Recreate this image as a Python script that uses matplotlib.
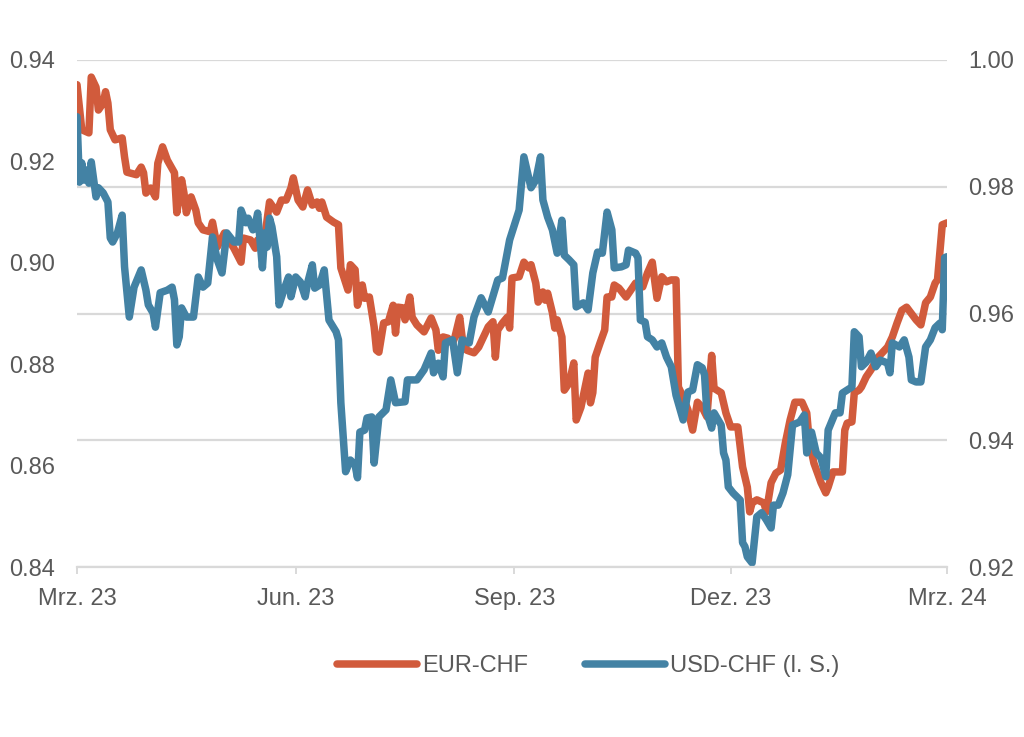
import matplotlib
matplotlib.use("Agg")
import matplotlib.pyplot as plt
import pandas as pd

plt.rcParams['font.family'] = ['Liberation Sans', 'DejaVu Sans']

# Tage seit 1. Maerz 2023 und Kurse
eur_day = [0, 2, 5, 6, 8, 9, 11, 12, 13, 14, 16, 19, 20, 21, 25, 27, 28, 29, 31, 33,
           34, 36, 38, 41, 42, 44, 45, 46, 48, 50, 51, 53, 56, 57, 59, 62, 66, 69, 70, 73,
           75, 76, 79, 81, 84, 86, 88, 90, 91, 93, 95, 97, 99, 101, 102, 103, 105, 108, 110, 111,
           114, 115, 117, 118, 120, 121, 123, 125, 126, 127, 129, 131, 133, 134, 135, 137, 138, 140, 141, 143,
           146, 149, 151, 152, 154, 156, 158, 159, 161, 162, 164, 167, 169, 171, 173, 175, 176, 177, 179, 181,
           182, 183, 186, 188, 190, 191, 193, 194, 196, 197, 198, 200, 201, 202, 204, 205, 207, 209, 210, 212,
           215, 216, 217, 218, 220, 222, 223, 225, 226, 228, 231, 233, 235, 238, 240, 242, 244, 246, 248, 250,
           252, 253, 255, 257, 259, 261, 263, 265, 267, 268, 271, 273, 275, 278, 280, 282, 283, 284, 286, 289,
           290, 292, 294, 296, 298, 300, 302, 305, 307, 308, 310, 313, 315, 316, 318, 322, 323, 324, 326, 327,
           329, 330, 332, 334, 337, 341, 343, 345, 347, 349, 350, 353, 355, 357, 359, 361, 362, 364, 366]
eur_chf = [0.9961, 0.9890, 0.9885, 0.9973, 0.9957, 0.9921, 0.9932, 0.9950, 0.9932, 0.9890,
           0.9874, 0.9877, 0.9847, 0.9823, 0.9819, 0.9831, 0.9822, 0.9790, 0.9798, 0.9784,
           0.9837, 0.9863, 0.9842, 0.9822, 0.9759, 0.9811, 0.9790, 0.9759, 0.9784, 0.9763,
           0.9743, 0.9732, 0.9729, 0.9744, 0.9705, 0.9727, 0.9703, 0.9681, 0.9719, 0.9716,
           0.9703, 0.9716, 0.9721, 0.9776, 0.9760, 0.9779, 0.9779, 0.9798, 0.9814, 0.9779,
           0.9768, 0.9795, 0.9771, 0.9776, 0.9766, 0.9776, 0.9752, 0.9744, 0.9740, 0.9672,
           0.9637, 0.9677, 0.9669, 0.9613, 0.9645, 0.9624, 0.9626, 0.9579, 0.9542, 0.9539,
           0.9585, 0.9587, 0.9613, 0.9569, 0.9610, 0.9609, 0.9590, 0.9626, 0.9594, 0.9582,
           0.9571, 0.9593, 0.9574, 0.9542, 0.9563, 0.9561, 0.9553, 0.9563, 0.9594, 0.9563,
           0.9542, 0.9538, 0.9547, 0.9563, 0.9579, 0.9587, 0.9531, 0.9574, 0.9585, 0.9594,
           0.9577, 0.9656, 0.9658, 0.9681, 0.9672, 0.9677, 0.9648, 0.9618, 0.9634, 0.9621,
           0.9632, 0.9601, 0.9577, 0.9590, 0.9563, 0.9479, 0.9490, 0.9522, 0.9432, 0.9452,
           0.9506, 0.9459, 0.9475, 0.9531, 0.9553, 0.9574, 0.9626, 0.9626, 0.9645, 0.9640,
           0.9626, 0.9637, 0.9648, 0.9642, 0.9664, 0.9681, 0.9624, 0.9658, 0.9650, 0.9653,
           0.9653, 0.9484, 0.9468, 0.9448, 0.9416, 0.9460, 0.9452, 0.9437, 0.9534, 0.9482,
           0.9475, 0.9443, 0.9421, 0.9421, 0.9358, 0.9326, 0.9287, 0.9301, 0.9306, 0.9301,
           0.9287, 0.9333, 0.9348, 0.9353, 0.9396, 0.9432, 0.9460, 0.9460, 0.9443, 0.9400,
           0.9364, 0.9333, 0.9317, 0.9326, 0.9350, 0.9350, 0.9416, 0.9427, 0.9429, 0.9475,
           0.9479, 0.9484, 0.9500, 0.9511, 0.9531, 0.9547, 0.9563, 0.9585, 0.9605, 0.9610,
           0.9605, 0.9590, 0.9582, 0.9617, 0.9626, 0.9648, 0.9653, 0.9740, 0.9743]

usd_day = [0, 1, 2, 3, 4, 5, 6, 8, 9, 11, 13, 14, 15, 17, 19, 20, 22, 24, 27, 29,
           30, 32, 33, 34, 35, 38, 40, 41, 42, 43, 44, 46, 49, 51, 53, 55, 57, 59, 61, 63,
           66, 68, 69, 71, 72, 74, 75, 76, 78, 79, 80, 81, 82, 84, 85, 87, 89, 90, 92, 94,
           96, 97, 99, 100, 102, 104, 106, 109, 110, 111, 113, 115, 117, 118, 119, 121, 122, 124, 125, 127,
           130, 132, 134, 138, 139, 143, 146, 149, 150, 152, 154, 155, 158, 160, 162, 165, 167, 170, 173, 177,
           179, 182, 186, 188, 191, 193, 195, 196, 198, 200, 202, 204, 205, 207, 209, 210, 213, 215, 217, 219,
           221, 223, 225, 226, 229, 231, 232, 235, 236, 237, 239, 240, 242, 244, 246, 248, 250, 252, 255, 257,
           259, 261, 263, 264, 265, 267, 268, 271, 272, 273, 274, 276, 279, 280, 281, 282, 284, 286, 288, 290,
           292, 293, 295, 297, 299, 300, 301, 304, 306, 307, 309, 311, 313, 315, 316, 319, 321, 322, 324, 326,
           327, 329, 330, 332, 334, 336, 338, 341, 342, 343, 346, 348, 350, 351, 353, 355, 357, 359, 361, 363,
           364, 365, 366]
usd_chf = [0.9288, 0.9159, 0.9197, 0.9163, 0.9183, 0.9157, 0.9199, 0.9130, 0.9148, 0.9138,
           0.9120, 0.9049, 0.9041, 0.9059, 0.9094, 0.8992, 0.8893, 0.8952, 0.8986, 0.8946,
           0.8917, 0.8901, 0.8873, 0.8907, 0.8941, 0.8946, 0.8952, 0.8927, 0.8838, 0.8854,
           0.8911, 0.8893, 0.8893, 0.8972, 0.8952, 0.8960, 0.9051, 0.9006, 0.8980, 0.9059,
           0.9041, 0.9041, 0.9104, 0.9079, 0.9088, 0.9065, 0.9075, 0.9098, 0.8990, 0.9059,
           0.9031, 0.9088, 0.9071, 0.9012, 0.8917, 0.8946, 0.8972, 0.8933, 0.8972, 0.8962,
           0.8933, 0.8960, 0.8996, 0.8950, 0.8956, 0.8986, 0.8887, 0.8864, 0.8848, 0.8724,
           0.8588, 0.8611, 0.8601, 0.8576, 0.8666, 0.8670, 0.8694, 0.8696, 0.8605, 0.8696,
           0.8710, 0.8769, 0.8724, 0.8726, 0.8769, 0.8769, 0.8789, 0.8822, 0.8783, 0.8802,
           0.8775, 0.8842, 0.8848, 0.8783, 0.8848, 0.8842, 0.8893, 0.8931, 0.8903, 0.8966,
           0.8970, 0.9045, 0.9104, 0.9209, 0.9148, 0.9163, 0.9209, 0.9124, 0.9090, 0.9065,
           0.9019, 0.9084, 0.9015, 0.9006, 0.8996, 0.8913, 0.8921, 0.8907, 0.8980, 0.9021,
           0.9019, 0.9100, 0.9065, 0.8990, 0.8992, 0.8996, 0.9025, 0.9019, 0.9010, 0.8887,
           0.8883, 0.8854, 0.8848, 0.8834, 0.8842, 0.8814, 0.8795, 0.8739, 0.8690, 0.8745,
           0.8749, 0.8799, 0.8793, 0.8779, 0.8704, 0.8674, 0.8704, 0.8680, 0.8625, 0.8611,
           0.8558, 0.8546, 0.8532, 0.8448, 0.8440, 0.8420, 0.8408, 0.8499, 0.8507, 0.8493,
           0.8477, 0.8522, 0.8522, 0.8546, 0.8582, 0.8631, 0.8680, 0.8686, 0.8700, 0.8625,
           0.8666, 0.8625, 0.8615, 0.8578, 0.8670, 0.8704, 0.8704, 0.8743, 0.8749, 0.8755,
           0.8864, 0.8854, 0.8795, 0.8804, 0.8822, 0.8795, 0.8808, 0.8802, 0.8783, 0.8842,
           0.8834, 0.8848, 0.8814, 0.8769, 0.8765, 0.8765, 0.8834, 0.8848, 0.8872, 0.8881,
           0.8868, 0.9010, 0.9012]

tick_dates = ['2023-03-01', '2023-06-01', '2023-09-01', '2023-12-01', '2024-03-01']
tick_labels = ['Mrz. 23', 'Jun. 23', 'Sep. 23', 'Dez. 23', 'Mrz. 24']
left_ticks = [0.84, 0.86, 0.88, 0.90, 0.92, 0.94]
right_ticks = [0.92, 0.94, 0.96, 0.98, 1.00]

start = pd.Timestamp('2023-03-01')
eur_x = start + pd.to_timedelta(eur_day, unit='D')
usd_x = start + pd.to_timedelta(usd_day, unit='D')

orange = '#D15B3C'
blue = '#4382A4'
grey = '#D9D9D9'
txt = '#595959'

fig = plt.figure(figsize=(10.24, 7.37), dpi=100)
ax = fig.add_axes([77/1024, 1 - 567/737, 870/1024, 507/737])  # links: USD-CHF
ax2 = ax.twinx()                                              # rechts: EUR-CHF

l1, = ax2.plot(eur_x, eur_chf, color=orange, lw=5.4, solid_joinstyle='round', solid_capstyle='round')
l2, = ax.plot(usd_x, usd_chf, color=blue, lw=5.4, solid_joinstyle='round', solid_capstyle='round')

# blaue Linie oben
ax.set_zorder(ax2.get_zorder() + 1)
ax.patch.set_visible(False)

ax.set_ylim(0.84, 0.94)
ax2.set_ylim(0.92, 1.00)
ax.set_yticks(left_ticks)
ax.set_yticklabels(['%.2f' % v for v in left_ticks])
ax2.set_yticks(right_ticks)
ax2.set_yticklabels(['%.2f' % v for v in right_ticks])

ax.set_xlim(pd.Timestamp(tick_dates[0]), pd.Timestamp(tick_dates[-1]))
ax.set_xticks(pd.to_datetime(tick_dates))
ax.set_xticklabels(tick_labels)

ax2.yaxis.grid(True, color=grey, lw=1.6)
ax2.set_axisbelow(True)

for a in (ax, ax2):
    for s in a.spines.values():
        s.set_visible(False)
ax.spines['bottom'].set_visible(True)
ax.spines['bottom'].set_color(grey)
ax.spines['bottom'].set_linewidth(1.6)

ax.tick_params(axis='x', colors=grey, length=5, width=1.4, pad=10, labelsize=17, labelcolor=txt)
ax.tick_params(axis='y', length=0, pad=16, labelsize=17, labelcolor=txt)
ax2.tick_params(axis='y', length=0, pad=15, labelsize=17, labelcolor=txt)

fig.legend([l1, l2], ['EUR-CHF', 'USD-CHF (l. S.)'], loc='center',
           bbox_to_anchor=(588/1024, 1 - 666/737), ncol=2, frameon=False,
           fontsize=17, handlelength=3.4, handletextpad=0.2, columnspacing=2.4,
           labelcolor=txt)

fig.savefig('out.png', dpi=100)
